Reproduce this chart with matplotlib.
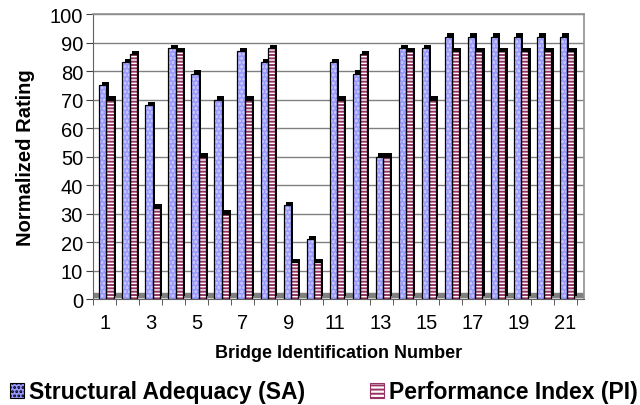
import matplotlib.pyplot as plt
import numpy as np
from matplotlib.patches import Rectangle

plt.rcParams['font.family'] = ['Liberation Sans', 'DejaVu Sans']
plt.rcParams['hatch.linewidth'] = 1.4

# bridge ratings
bridges = np.arange(1, 22)
sa = [75, 83, 68, 88, 79, 70, 87, 83, 33, 21, 83, 79, 50, 88, 88, 92, 92, 92, 92, 92, 92]
pi = [70, 86, 32, 87, 50, 30, 70, 88, 13, 13, 70, 86, 50, 87, 70, 87, 87, 87, 87, 87, 87]
sa_label = 'Structural Adequacy (SA)'
pi_label = 'Performance Index (PI)'

sa_face = '#9999ff'
sa_dots = '#d0d0ff'
pi_face = '#ffffff'
pi_lines = '#993366'

fig = plt.figure(figsize=(6.4, 4.06), dpi=100)
ax = fig.add_axes([0.145, 0.261, 0.768, 0.702])

w = 0.31
dx, dy = 0.11, 1.2   # fake 3-D depth offset
x_sa = bridges - 0.08
x_pi = x_sa + w

# floor of the 3-D box
ax.axhspan(0.6, 2.0, color='#808080', zorder=1)

for xs, vals, face, hcol, hatch in [(x_sa, sa, sa_face, sa_dots, '....'),
                                    (x_pi, pi, pi_face, pi_lines, '-----')]:
    # dark side/top faces
    ax.bar(xs + dx, vals, w, bottom=dy, color='black', zorder=2)
    # front face
    ax.bar(xs, vals, w, color=face, edgecolor='none', zorder=3)
    ax.bar(xs, vals, w, color='none', edgecolor=hcol, linewidth=0, hatch=hatch, zorder=4)
    ax.bar(xs, vals, w, color='none', edgecolor='black', linewidth=0.9, zorder=5)

ax.set_xlim(0.48, 21.83)
ax.set_ylim(0, 100)
ax.set_yticks(np.arange(0, 101, 10))
ax.set_xticks(bridges[::2])
ax.set_xticks(np.arange(0.5, 22, 1), minor=True)
ax.tick_params(axis='x', which='major', length=0, pad=10, labelsize=14.5)
ax.tick_params(axis='x', which='minor', length=4, direction='out', color='#404040')
ax.tick_params(axis='y', length=5, direction='out', pad=2, labelsize=14.5, color='#404040')
ax.grid(axis='y', color='#808080', linewidth=1.0, zorder=0)
ax.set_axisbelow(True)
for side in ['top', 'right']:
    ax.spines[side].set_color('#909090')
    ax.spines[side].set_linewidth(1.2)
ax.spines['left'].set_color('#606060')
ax.spines['bottom'].set_color('#606060')

ax.set_ylabel('Normalized Rating', fontsize=14.5, fontweight='bold')
ax.yaxis.set_label_coords(35 / 640, 0.5 * (0.261 + 0.963), transform=fig.transFigure)
ax.set_xlabel('Bridge Identification Number', fontsize=13, fontweight='bold', labelpad=9)

leg_font = {'weight': 'bold', 'size': 16.5}
h_sa = Rectangle((0, 0), 1, 1, facecolor=sa_face, edgecolor='black', hatch='....', linewidth=0.8)
h_pi = Rectangle((0, 0), 1, 1, facecolor=pi_face, edgecolor=pi_lines, hatch='----', linewidth=0.8)
leg_kw = dict(loc='center left', frameon=False, prop=leg_font, handlelength=0.6,
              handleheight=0.6, handletextpad=0.25, borderaxespad=0, borderpad=0)
fig.legend([h_sa], [sa_label], bbox_to_anchor=(10 / 640, 13 / 406), **leg_kw)
fig.legend([h_pi], [pi_label], bbox_to_anchor=(370 / 640, 13 / 406), **leg_kw)

fig.savefig('out.png', dpi=100)
